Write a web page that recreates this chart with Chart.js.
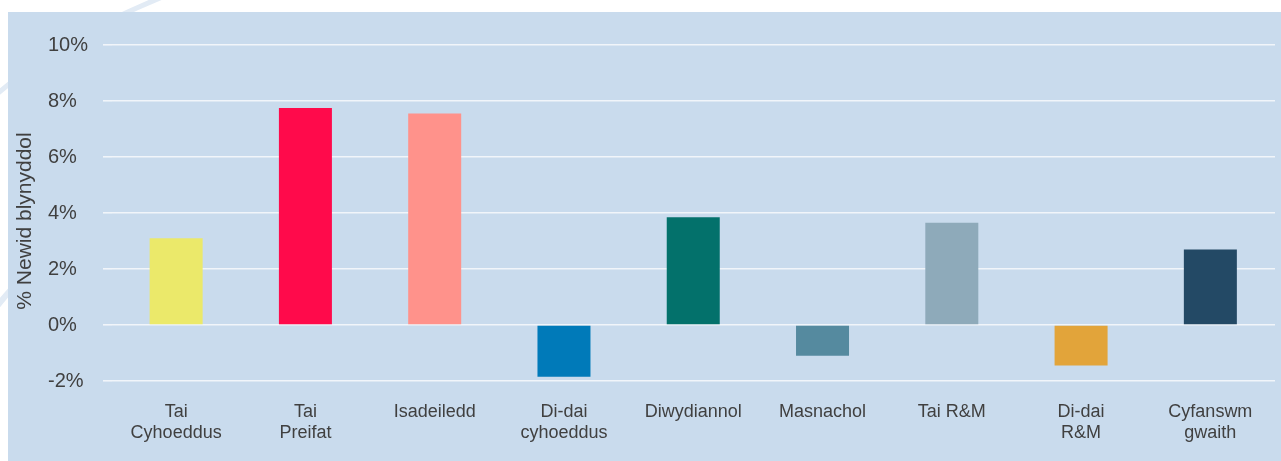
<!DOCTYPE html>
<html>
<head>
<meta charset="utf-8">
<script src="https://cdn.jsdelivr.net/npm/chart.js@4"></script>
<style>
  html, body { margin: 0; padding: 0; background: #ffffff; overflow: hidden; }
  body { width: 1281px; height: 461px; position: relative; }
  #deco { position: absolute; left: 0; top: 0; }
  #panel { position: absolute; left: 8px; top: 12px; width: 1273px; height: 449px; background: #c9dbed; }
</style>
</head>
<body>
<svg id="deco" width="1281" height="461">
  <path d="M -20 110 Q 50 40 180 -10" stroke="#e2ebf5" stroke-width="5" fill="none"/>
  <path d="M -20 330 Q 0 300 20 280" stroke="#e2ebf5" stroke-width="6" fill="none"/>
</svg>
<div id="panel"><canvas id="c"></canvas></div>
<script>
const categories = [
  ["Tai", "Cyhoeddus"],
  ["Tai", "Preifat"],
  "Isadeiledd",
  ["Di-dai", "cyhoeddus"],
  "Diwydiannol",
  "Masnachol",
  "Tai R&M",
  ["Di-dai", "R&M"],
  ["Cyfanswm", "gwaith"]
];
const values = [3.1, 7.75, 7.55, -1.85, 3.85, -1.1, 3.65, -1.45, 2.7];
const barColors = ["#ebe96a", "#ff0a4b", "#ff928b", "#007ab9", "#03716b", "#558a9f", "#8eaaba", "#e2a43a", "#234965"];
const yTitle = "% Newid blynyddol";
const yMin = -2, yMax = 10, yStep = 2;

const textColor = "#404040";
const font = "'Liberation Sans', Arial, Helvetica, sans-serif";

const titlePlugin = {
  id: 'yTitle',
  afterDraw(chart) {
    const ctx = chart.ctx;
    ctx.save();
    ctx.translate(17, 209);
    ctx.rotate(-Math.PI / 2);
    ctx.font = "21px " + font;
    ctx.fillStyle = textColor;
    ctx.textAlign = 'center';
    ctx.textBaseline = 'middle';
    ctx.fillText(yTitle, 0, 0);
    ctx.restore();
  }
};

new Chart(document.getElementById('c'), {
  type: 'bar',
  data: {
    labels: categories,
    datasets: [{
      data: values,
      backgroundColor: barColors,
      borderWidth: 0,
      barPercentage: 0.41,
      categoryPercentage: 1.0
    }]
  },
  options: {
    responsive: true,
    maintainAspectRatio: false,
    animation: false,
    devicePixelRatio: 1,
    layout: { padding: { left: 40, top: 33, right: 6, bottom: 0 } },
    plugins: { legend: { display: false }, tooltip: { enabled: false }, title: { display: false } },
    scales: {
      x: {
        grid: { display: false },
        border: { display: false },
        ticks: { color: textColor, font: { family: font, size: 18 }, padding: 12, maxRotation: 0, autoSkip: false },
        afterFit: s => { s.height = 80; }
      },
      y: {
        min: yMin, max: yMax,
        grid: { color: '#f1f5fa', lineWidth: 1.6, tickLength: 8.5, drawTicks: true },
        border: { display: false },
        ticks: {
          stepSize: yStep,
          crossAlign: 'far',
          padding: 0,
          color: textColor,
          font: { family: font, size: 20 },
          callback: v => v + '%'
        },
        afterFit: s => { s.width = 63.5; }
      }
    }
  },
  plugins: [titlePlugin]
});
</script>
</body>
</html>
